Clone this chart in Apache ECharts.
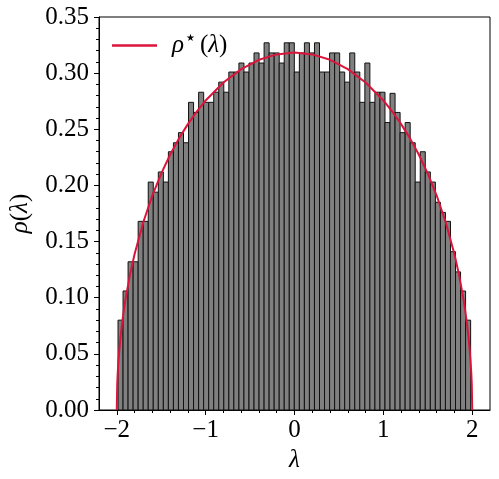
<!DOCTYPE html>
<html><head><meta charset="utf-8">
<script src="https://cdn.jsdelivr.net/npm/echarts@6/dist/echarts.min.js"></script>
<style>html,body{margin:0;padding:0;background:#fff}#c{width:499px;height:479px}</style>
</head><body><div id="c"></div>
<script>
// Histogram: 70 equal bins between smallest and largest eigenvalue
const histMin = -1.986;
const histMax = 1.982;
const density = [
  0.080,0.106,0.132,0.132,0.168,0.168,0.203,0.194,0.212,0.203,
  0.230,0.238,0.247,0.238,0.274,0.265,0.283,0.274,0.274,0.283,
  0.292,0.283,0.301,0.301,0.309,0.301,0.309,0.318,0.309,0.327,
  0.318,0.318,0.309,0.327,0.327,
  0.301,0.318,0.327,0.318,0.327,0.301,0.301,0.318,0.318,0.301,
  0.292,0.318,0.301,0.274,0.309,0.274,0.283,0.283,0.256,0.282,
  0.265,0.247,0.256,0.238,0.203,0.230,0.212,0.203,0.185,0.176,
  0.168,0.141,0.123,0.106,0.080
];
// Curve rho*(lambda)
const curveX = [-2,-1.995,-1.99,-1.98,-1.96,-1.94,-1.92,-1.9,-1.85,-1.8,-1.7,-1.6,-1.5,-1.4,-1.3,-1.2,-1.1,-1.0,-0.8,-0.6,-0.4,-0.2,0,
  0.2,0.4,0.6,0.8,1.0,1.1,1.2,1.3,1.4,1.5,1.6,1.7,1.8,1.85,1.9,1.92,1.94,1.96,1.98,1.99,1.995,2];
const curveY = [0,0.0225,0.0318,0.0449,0.0633,0.0774,0.0891,0.0994,0.121,0.1387,0.1677,0.191,0.2105,0.2273,0.2419,0.2546,0.2658,0.2757,0.2917,0.3036,0.3119,0.3167,0.3183,
  0.3167,0.3119,0.3036,0.2917,0.2757,0.2658,0.2546,0.2419,0.2273,0.2105,0.191,0.1677,0.1387,0.121,0.0994,0.0891,0.0774,0.0633,0.0449,0.0318,0.0225,0];
const xMajorTicks = [-2,-1,0,1,2];
const xMinorTicks = [-1.8,-1.6,-1.4,-1.2,-0.8,-0.6,-0.4,-0.2,0.2,0.4,0.6,0.8,1.2,1.4,1.6,1.8];

const FONT = '"Liberation Serif", "Times New Roman", serif';
const nBins = density.length;
const binW = (histMax - histMin) / nBins;
const histData = density.map((v, i) => [histMin + i * binW, histMin + (i + 1) * binW, v]);

const chart = echarts.init(document.getElementById('c'), null, {renderer: 'canvas'});
chart.setOption({
  animation: false,
  backgroundColor: '#fff',
  grid: {left: 95, right: 9, top: 17, bottom: 69, show: true, borderColor: '#000', borderWidth: 1, backgroundColor: 'transparent'},
  legend: {
    left: 112, top: 33, padding: 0, icon: 'rect', itemWidth: 45, itemHeight: 2.5,
    data: [{name: 'rho', itemStyle: {color: '#DC143C'}}],
    formatter: () => '{r|ρ}{s|★}{n|(}{l|λ}{n|)}',
    textStyle: {
      padding: [0, 0, 0, 10],
      rich: {
        r: {fontFamily: FONT, fontStyle: 'italic', fontSize: 25, color: '#000'},
        s: {fontFamily: '"DejaVu Sans", sans-serif', fontSize: 10, color: '#000', padding: [0, 5, 14, 2]},
        n: {fontFamily: FONT, fontSize: 25, color: '#000'},
        l: {fontFamily: FONT, fontStyle: 'italic', fontSize: 25, color: '#000'}
      }
    }
  },
  xAxis: [{
    type: 'value', min: -2.2, max: 2.2, position: 'bottom',
    name: 'λ', nameLocation: 'middle', nameGap: 36,
    nameTextStyle: {fontFamily: FONT, fontStyle: 'italic', fontSize: 25, color: '#000'},
    axisLine: {show: true, onZero: false, lineStyle: {color: '#000', width: 1}},
    axisTick: {show: true, customValues: xMajorTicks, length: 5, lineStyle: {color: '#000', width: 1}},
    axisLabel: {customValues: xMajorTicks, margin: 8, fontFamily: FONT, fontSize: 25, color: '#000',
      formatter: v => (v < 0 ? '\u2212' + Math.abs(v) : String(v))},
    splitLine: {show: false}
  }, {
    type: 'value', min: -2.2, max: 2.2, position: 'bottom',
    axisLine: {show: false, onZero: false},
    axisTick: {show: true, customValues: xMinorTicks, length: 3, lineStyle: {color: '#000', width: 1}},
    axisLabel: {show: false},
    splitLine: {show: false}
  }],
  yAxis: {
    type: 'value', min: 0, max: 0.35, interval: 0.05,
    name: '{r|ρ}{n|(}{r|λ}{n|)}', nameLocation: 'middle', nameGap: 66, nameRotate: 90,
    nameTextStyle: {rich: {
      r: {fontFamily: FONT, fontStyle: 'italic', fontSize: 25, color: '#000'},
      n: {fontFamily: FONT, fontSize: 25, color: '#000'}
    }},
    axisLine: {show: true, onZero: false, lineStyle: {color: '#000', width: 1}},
    axisTick: {show: true, length: 5, lineStyle: {color: '#000', width: 1}},
    minorTick: {show: true, splitNumber: 5, length: 3, lineStyle: {color: '#000', width: 1}},
    axisLabel: {margin: 10, fontFamily: FONT, fontSize: 25, color: '#000', formatter: v => v.toFixed(2)},
    splitLine: {show: false}
  },
  series: [{
    type: 'custom', name: 'hist', xAxisIndex: 0, yAxisIndex: 0,
    encode: {x: [0, 1], y: 2},
    data: histData,
    renderItem: (params, api) => {
      const p0 = api.coord([api.value(0), api.value(2)]);
      const p1 = api.coord([api.value(1), 0]);
      return {type: 'rect', shape: {x: p0[0], y: p0[1], width: p1[0] - p0[0], height: p1[1] - p0[1]},
        style: {fill: '#808080', stroke: '#111', lineWidth: 1}};
    },
    z: 2
  }, {
    type: 'line', name: 'rho', xAxisIndex: 0, yAxisIndex: 0,
    data: curveX.map((x, i) => [x, curveY[i]]),
    symbol: 'none', smooth: false,
    lineStyle: {color: '#DC143C', width: 2},
    itemStyle: {color: '#DC143C'},
    z: 5
  }]
});
</script>
</body></html>
